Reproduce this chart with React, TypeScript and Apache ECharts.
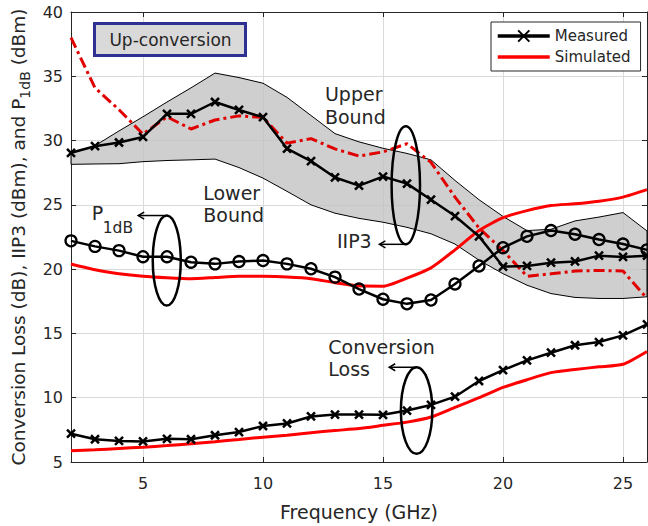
import React, { useEffect, useRef } from "react";
import * as echarts from "echarts";

// Frequency points (GHz)
const freqGHz = [2, 3, 4, 5, 6, 7, 8, 9, 10, 11, 12, 13, 14, 15, 16, 17, 18, 19, 20, 21, 22, 23, 24, 25, 26];

// Conversion loss (dB)
const convLossMeasured = [7.2, 6.77, 6.64, 6.6, 6.8, 6.77, 7.08, 7.33, 7.8, 8.0, 8.54, 8.69, 8.69, 8.67, 9.0, 9.44, 10.08, 11.3, 12.15, 12.9, 13.5, 14.08, 14.33, 14.85, 15.7];
const convLossSimulated = [5.87, 5.95, 6.05, 6.15, 6.28, 6.42, 6.58, 6.75, 6.93, 7.08, 7.28, 7.45, 7.6, 7.85, 8.1, 8.5, 9.25, 10.0, 10.8, 11.4, 11.95, 12.2, 12.4, 12.6, 13.6];

// Input 1-dB compression point (dBm)
const p1dbMeasured = [22.2, 21.77, 21.44, 20.97, 20.97, 20.54, 20.41, 20.59, 20.67, 20.41, 20.03, 19.38, 18.45, 17.66, 17.3, 17.6, 18.85, 20.25, 21.67, 22.55, 23.0, 22.72, 22.3, 21.95, 21.5];
const p1dbSimulated = [20.4, 19.95, 19.65, 19.45, 19.33, 19.25, 19.35, 19.45, 19.44, 19.38, 19.26, 18.95, 18.7, 18.67, 19.3, 20.1, 21.5, 23.0, 24.0, 24.55, 24.95, 25.08, 25.28, 25.6, 26.18];

// IIP3 (dBm)
const iip3Measured = [29.05, 29.56, 29.85, 30.28, 32.08, 32.08, 33.0, 32.38, 31.82, 29.38, 28.4, 27.13, 26.5, 27.2, 26.65, 25.4, 24.13, 22.55, 20.2, 20.25, 20.5, 20.6, 21.05, 20.95, 21.05];
const iip3Simulated = [38.0, 34.1, 32.4, 30.5, 31.85, 30.9, 31.6, 31.92, 31.8, 29.8, 30.15, 29.35, 28.8, 29.12, 29.75, 28.3, 25.6, 23.2, 21.45, 19.44, 19.64, 19.85, 19.9, 19.85, 17.72];

// IIP3 tolerance band (dBm)
const iip3LowerBound = [28.15, 28.18, 28.2, 28.36, 28.45, 28.5, 28.56, 27.9, 27.08, 26.05, 25.0, 24.35, 23.95, 23.65, 23.25, 22.75, 21.95, 20.7, 19.65, 18.75, 18.1, 17.8, 17.72, 17.72, 17.85];
const iip3UpperBound = [29.0, 29.6, 30.75, 31.85, 33.0, 34.1, 35.25, 34.9, 34.46, 33.36, 31.95, 30.54, 29.9, 29.4, 29.0, 28.5, 26.9, 25.4, 24.1, 23.0, 23.1, 23.75, 24.05, 24.4, 22.97];

const FONT = "DejaVu Sans";
const INK = "#262626";
const CROSS = "path://M0,0L10,10M10,0L0,10";

const pairs = (xs: number[], ys: number[]) => xs.map((x, i) => [x, ys[i]]);

// Annotation anchors, in data units (GHz, dB)
const labels = [
  { text: "Upper", at: [12.58, 33.62], size: 19, align: "left" },
  { text: "Bound", at: [12.58, 31.82], size: 19, align: "left" },
  { text: "Lower", at: [7.51, 25.92], size: 19, align: "left" },
  { text: "Bound", at: [7.51, 24.25], size: 19, align: "left" },
  { text: "P", at: [2.86, 24.38], size: 19, align: "left" },
  { text: "1dB", at: [3.32, 23.23], size: 15.5, align: "left" },
  { text: "IIP3", at: [14.53, 22.21], size: 19, align: "right" },
  { text: "Conversion", at: [12.72, 13.95], size: 19, align: "left" },
  { text: "Loss", at: [12.72, 12.21], size: 19, align: "left" },
];

const ellipses = [
  { center: [5.99, 20.67], rx: 14, ry: 45, arrowAt: "top", tip: 4.8 },
  { center: [15.95, 26.52], rx: 14.2, ry: 59, arrowAt: "bottom", tip: 14.85 },
  { center: [16.4, 9.0], rx: 15.7, ry: 43.3, arrowAt: "top", tip: 15.26 },
];

export default function App() {
  const ref = useRef<HTMLDivElement>(null);

  useEffect(() => {
    if (!ref.current) return;
    const chart = echarts.init(ref.current, undefined, { renderer: "svg" });

    const frameAxis = {
      axisLine: { show: true, lineStyle: { color: INK, width: 1 } },
      axisTick: { show: true, inside: true, length: 5, lineStyle: { color: INK } },
    };

    chart.setOption({
      animation: false,
      textStyle: { fontFamily: FONT },
      grid: { left: 71, right: 1, top: 12, bottom: 59 },
      legend: {
        data: [
          { name: "Measured", lineStyle: { width: 3.5 } },
          { name: "Simulated", itemStyle: { opacity: 0 }, lineStyle: { width: 3.5 } },
        ],
        orient: "vertical",
        left: 491,
        top: 22,
        padding: [5, 10, 5, 5],
        itemGap: 3,
        itemWidth: 52,
        itemHeight: 14,
        borderColor: INK,
        borderWidth: 1,
        backgroundColor: "#fff",
        textStyle: { fontSize: 15, color: INK, fontFamily: FONT, lineHeight: 18 },
      },
      xAxis: [
        {
          type: "value",
          min: 2,
          max: 26,
          ...frameAxis,
          splitLine: { show: true, lineStyle: { color: "#dadada", width: 1 } },
          axisLabel: {
            fontSize: 16,
            color: INK,
            fontFamily: FONT,
            margin: 13,
            showMinLabel: false,
            showMaxLabel: false,
          },
          name: "Frequency (GHz)",
          nameLocation: "middle",
          nameGap: 40,
          nameTextStyle: { fontSize: 19, color: INK, fontFamily: FONT },
        },
        {
          type: "value",
          position: "top",
          min: 2,
          max: 26,
          ...frameAxis,
          splitLine: { show: false },
          axisLabel: { show: false },
        },
      ],
      yAxis: [
        {
          type: "value",
          min: 5,
          max: 40,
          interval: 5,
          ...frameAxis,
          splitLine: { show: true, lineStyle: { color: "#dadada", width: 1 } },
          axisLabel: { fontSize: 16, color: INK, fontFamily: FONT, margin: 8 },
          name: "{a|Conversion Loss (dB), IIP3 (dBm), and P}{b|1dB}{a| (dBm)}",
          nameLocation: "middle",
          nameRotate: 90,
          nameGap: 35,
          nameTextStyle: {
            color: INK,
            fontFamily: FONT,
            rich: {
              a: { fontSize: 18.5, lineHeight: 26, color: INK, fontFamily: FONT },
              b: { fontSize: 14, lineHeight: 12, verticalAlign: "bottom", color: INK, fontFamily: FONT },
            },
          },
        },
        {
          type: "value",
          position: "right",
          min: 5,
          max: 40,
          interval: 5,
          ...frameAxis,
          splitLine: { show: false },
          axisLabel: { show: false },
        },
      ],
      series: [
        {
          name: "Measured",
          type: "line",
          data: pairs(freqGHz, convLossMeasured),
          symbol: CROSS,
          symbolSize: 8,
          lineStyle: { color: "#000", width: 2.5 },
          itemStyle: { color: "#000", borderColor: "#000", borderWidth: 2.5 },
          z: 6,
        },
        {
          name: "Simulated",
          type: "line",
          data: pairs(freqGHz, convLossSimulated),
          symbol: "none",
          smooth: 0.2,
          lineStyle: { color: "#ff0000", width: 3 },
          itemStyle: { color: "#ff0000" },
          z: 4,
        },
        {
          // shaded IIP3 tolerance band between the lower and upper bounds
          name: "IIP3 bounds",
          type: "custom",
          data: freqGHz.map((f, i) => [f, iip3LowerBound[i], iip3UpperBound[i]]),
          encode: { x: 0, y: [1, 2] },
          silent: true,
          z: 1,
          renderItem: (params: any, api: any) => {
            if (params.dataIndex !== 0) return null;
            const upper = freqGHz.map((f, i) => api.coord([f, iip3UpperBound[i]]));
            const lower = freqGHz.map((f, i) => api.coord([f, iip3LowerBound[i]])).reverse();
            return {
              type: "polygon",
              shape: { points: upper.concat(lower) },
              style: { fill: "rgba(195,195,195,0.8)", stroke: "#000", lineWidth: 1 },
            };
          },
        },
        {
          name: "Simulated",
          type: "line",
          data: pairs(freqGHz, p1dbSimulated),
          symbol: "none",
          smooth: 0.2,
          lineStyle: { color: "#ff0000", width: 3 },
          itemStyle: { color: "#ff0000" },
          z: 4,
        },
        {
          name: "Simulated",
          type: "line",
          data: pairs(freqGHz, iip3Simulated),
          symbol: "none",
          lineStyle: { color: "#e00000", width: 3, type: [11, 4, 3, 4] },
          itemStyle: { color: "#e00000" },
          z: 4,
        },
        {
          name: "Measured",
          type: "line",
          data: pairs(freqGHz, p1dbMeasured),
          symbol: "circle",
          symbolSize: 11,
          lineStyle: { color: "#000", width: 2.5 },
          itemStyle: { color: "transparent", borderColor: "#000", borderWidth: 2.3 },
          z: 6,
        },
        {
          name: "Measured",
          type: "line",
          data: pairs(freqGHz, iip3Measured),
          symbol: CROSS,
          symbolSize: 8,
          lineStyle: { color: "#000", width: 2.5 },
          itemStyle: { color: "#000", borderColor: "#000", borderWidth: 2.5 },
          z: 6,
        },
      ],
    });

    const toPx = (p: number[]) => chart.convertToPixel({ gridIndex: 0 }, p) as number[];

    const graphics: any[] = [
      {
        type: "rect",
        shape: { x: 94.5, y: 23.5, width: 151, height: 32 },
        style: { fill: "#d9d9d9", stroke: "#2e3192", lineWidth: 3 },
        z: 100,
      },
      {
        type: "text",
        x: 170.5,
        y: 39.5,
        style: {
          text: "Up-conversion",
          font: `17px "${FONT}"`,
          fill: INK,
          align: "center",
          verticalAlign: "middle",
        },
        z: 101,
      },
    ];

    labels.forEach((l) => {
      const [x, y] = toPx(l.at);
      graphics.push({
        type: "text",
        x,
        y,
        style: {
          text: l.text,
          font: `${l.size}px "${FONT}"`,
          fill: INK,
          align: l.align,
          verticalAlign: "middle",
        },
        z: 100,
      });
    });

    ellipses.forEach((e) => {
      const [cx, cy] = toPx(e.center);
      const [tipX] = toPx([e.tip, e.center[1]]);
      const ay = e.arrowAt === "top" ? cy - e.ry : cy + e.ry;
      graphics.push(
        {
          type: "ellipse",
          shape: { cx, cy, rx: e.rx, ry: e.ry },
          style: { fill: "none", stroke: "#000", lineWidth: 2.5 },
          z: 100,
        },
        {
          type: "polyline",
          shape: { points: [[cx, ay], [tipX, ay]] },
          style: { fill: "none", stroke: "#000", lineWidth: 1.5 },
          z: 100,
        },
        {
          type: "polyline",
          shape: { points: [[tipX + 6, ay - 3.5], [tipX, ay], [tipX + 6, ay + 3.5]] },
          style: { fill: "none", stroke: "#000", lineWidth: 1.5 },
          z: 100,
        }
      );
    });

    chart.setOption({ graphic: graphics });

    return () => chart.dispose();
  }, []);

  return (
    <div
      ref={ref}
      style={{ position: "fixed", left: 0, top: 0, width: 648, height: 526, background: "#fff" }}
    />
  );
}
